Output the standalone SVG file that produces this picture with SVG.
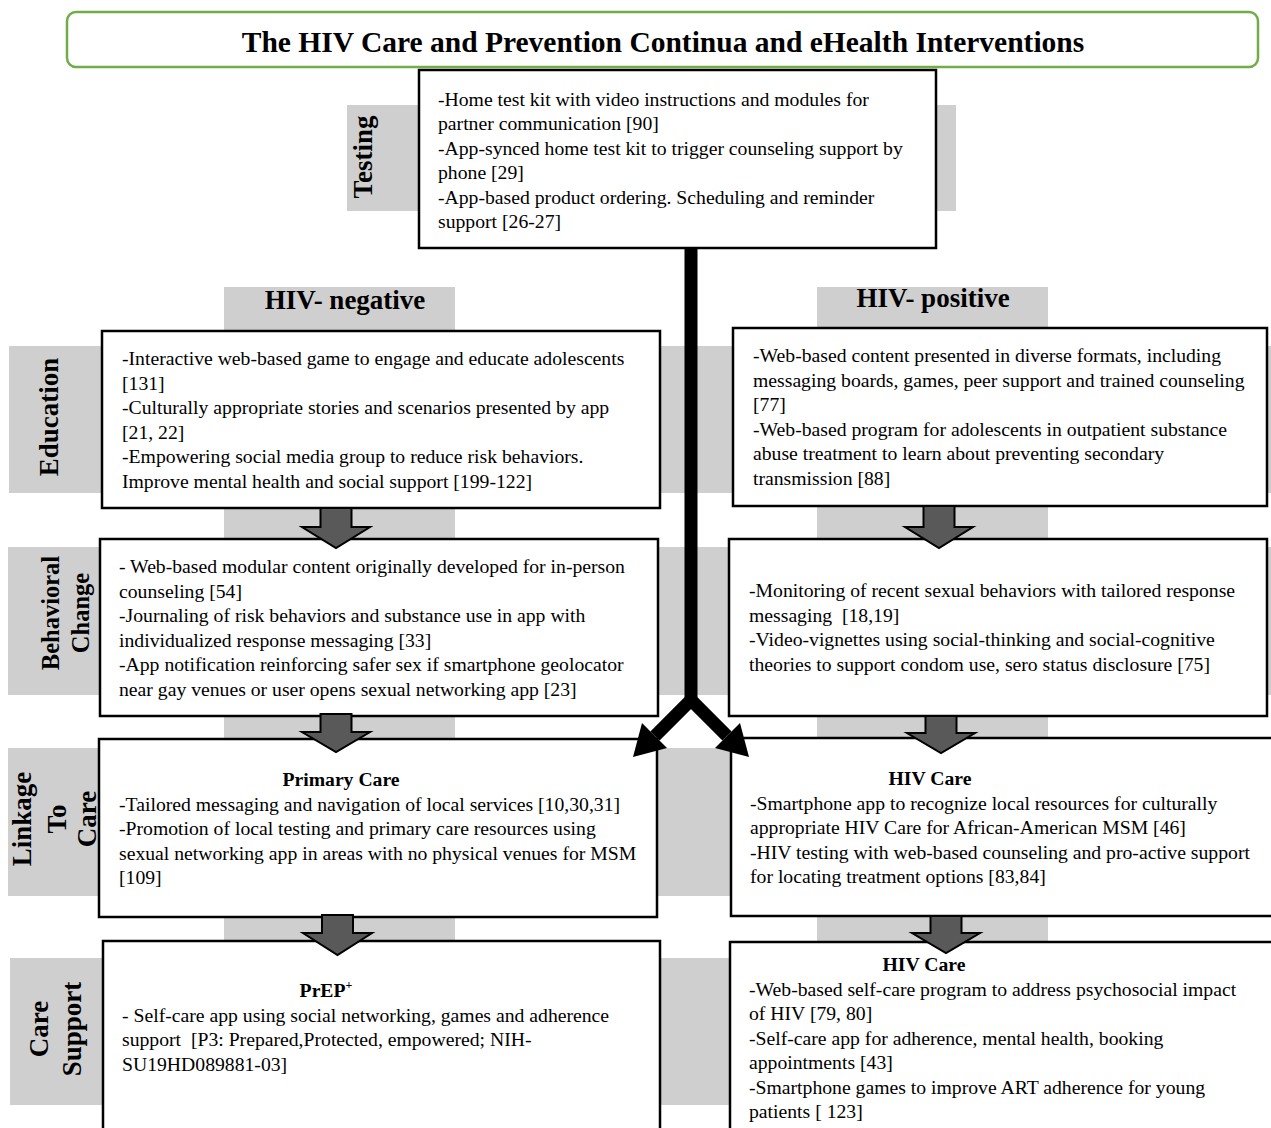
<svg xmlns="http://www.w3.org/2000/svg" width="1271" height="1128" viewBox="0 0 1271 1128">
<style>
.band{fill:#d0cfcf}
.box{fill:#fff;stroke:#000;stroke-width:2.5}
.t{font-family:"Liberation Serif","Times New Roman",serif;font-size:19.7px;fill:#000}
.h{font-weight:bold;text-anchor:middle}
.lbl{font-family:"Liberation Serif","Times New Roman",serif;font-weight:bold;font-size:27px;text-anchor:middle;fill:#000}
.ttl{font-size:29.5px}
.sm{font-size:24.5px}
.blk{fill:#595959;stroke:#000;stroke-width:2;stroke-linejoin:miter}
.bar{fill:none;stroke:#000;stroke-width:13}
</style>
<rect width="1271" height="1128" fill="#fff"/>
<g id="bands">
<rect class="band" x="347" y="105" width="609" height="106"/>
<rect class="band" x="9" y="346" width="1262" height="147"/>
<rect class="band" x="8" y="547" width="1263" height="148"/>
<rect class="band" x="8" y="748" width="1263" height="148"/>
<rect class="band" x="10" y="958" width="1261" height="147"/>
<rect class="band" x="224" y="287" width="231" height="841"/>
<rect class="band" x="817" y="287" width="231" height="841"/>
</g>
<g id="title">
<rect x="67" y="12" width="1191" height="55" rx="9" fill="#fff" stroke="#70ad47" stroke-width="2.5"/>
<text class="lbl ttl" x="663" y="52">The HIV Care and Prevention Continua and eHealth Interventions</text>
</g>
<g id="header-negative"><text class="lbl" x="345" y="309">HIV- negative</text></g>
<g id="header-positive"><text class="lbl" x="933" y="307">HIV- positive</text></g>
<g id="label-testing"><text class="lbl" transform="rotate(-90 372 157)" x="372" y="157">Testing</text></g>
<g id="label-education"><text class="lbl" transform="rotate(-90 58 417)" x="58" y="417">Education</text></g>
<g id="label-behavioral">
<text class="lbl sm" transform="rotate(-90 58.5 613)" x="58.5" y="613">Behavioral</text>
<text class="lbl sm" transform="rotate(-90 88.5 613)" x="88.5" y="613">Change</text>
</g>
<g id="label-linkage">
<text class="lbl" transform="rotate(-90 31 819)" x="31" y="819">Linkage</text>
<text class="lbl" transform="rotate(-90 66 819)" x="66" y="819">To</text>
<text class="lbl" transform="rotate(-90 96 819)" x="96" y="819">Care</text>
</g>
<g id="label-care">
<text class="lbl" transform="rotate(-90 48 1029)" x="48" y="1029">Care</text>
<text class="lbl" transform="rotate(-90 81 1029)" x="81" y="1029">Support</text>
</g>
<g id="testing">
<rect class="box" x="419" y="70" width="517" height="178"/>
<text class="t">
<tspan x="438" y="105.5">-Home test kit with video instructions and modules for</tspan>
<tspan x="438" y="130">partner communication [90]</tspan>
<tspan x="438" y="154.5">-App-synced home test kit to trigger counseling support by</tspan>
<tspan x="438" y="179">phone [29]</tspan>
<tspan x="438" y="203.5">-App-based product ordering. Scheduling and reminder</tspan>
<tspan x="438" y="228">support [26-27]</tspan>
</text>
</g>
<g id="edu-neg">
<rect class="box" x="102" y="331" width="558" height="177"/>
<text class="t">
<tspan x="122" y="365">-Interactive web-based game to engage and educate adolescents</tspan>
<tspan x="122" y="389.5">[131]</tspan>
<tspan x="122" y="414">-Culturally appropriate stories and scenarios presented by app</tspan>
<tspan x="122" y="438.5">[21, 22]</tspan>
<tspan x="122" y="463">-Empowering social media group to reduce risk behaviors.</tspan>
<tspan x="122" y="487.5">Improve mental health and social support [199-122]</tspan>
</text>
</g>
<g id="edu-pos">
<rect class="box" x="733" y="328" width="534" height="178"/>
<text class="t">
<tspan x="753" y="362">-Web-based content presented in diverse formats, including</tspan>
<tspan x="753" y="386.5">messaging boards, games, peer support and trained counseling</tspan>
<tspan x="753" y="411">[77]</tspan>
<tspan x="753" y="435.5">-Web-based program for adolescents in outpatient substance</tspan>
<tspan x="753" y="460">abuse treatment to learn about preventing secondary</tspan>
<tspan x="753" y="484.5">transmission [88]</tspan>
</text>
</g>
<g id="beh-neg">
<rect class="box" x="100" y="539" width="558" height="177"/>
<text class="t">
<tspan x="119" y="573">- Web-based modular content originally developed for in-person</tspan>
<tspan x="119" y="597.5">counseling [54]</tspan>
<tspan x="119" y="622">-Journaling of risk behaviors and substance use in app with</tspan>
<tspan x="119" y="646.5">individualized response messaging [33]</tspan>
<tspan x="119" y="671">-App notification reinforcing safer sex if smartphone geolocator</tspan>
<tspan x="119" y="695.5">near gay venues or user opens sexual networking app [23]</tspan>
</text>
</g>
<g id="beh-pos">
<rect class="box" x="729" y="539" width="538" height="177"/>
<text class="t">
<tspan x="749" y="597">-Monitoring of recent sexual behaviors with tailored response</tspan>
<tspan x="749" y="621.5">messaging&#160; [18,19]</tspan>
<tspan x="749" y="646">-Video-vignettes using social-thinking and social-cognitive</tspan>
<tspan x="749" y="670.5">theories to support condom use, sero status disclosure [75]</tspan>
</text>
</g>
<g id="link-neg">
<rect class="box" x="99" y="739" width="558" height="178"/>
<text class="t h" x="341" y="786">Primary Care</text>
<text class="t">
<tspan x="119" y="810.5">-Tailored messaging and navigation of local services [10,30,31]</tspan>
<tspan x="119" y="835">-Promotion of local testing and primary care resources using</tspan>
<tspan x="119" y="859.5">sexual networking app in areas with no physical venues for MSM</tspan>
<tspan x="119" y="884">[109]</tspan>
</text>
</g>
<g id="link-pos">
<rect class="box" x="731" y="738" width="545" height="178"/>
<text class="t h" x="930" y="785">HIV Care</text>
<text class="t">
<tspan x="750" y="809.5">-Smartphone app to recognize local resources for culturally</tspan>
<tspan x="750" y="834">appropriate HIV Care for African-American MSM [46]</tspan>
<tspan x="750" y="858.5">-HIV testing with web-based counseling and pro-active support</tspan>
<tspan x="750" y="883">for locating treatment options [83,84]</tspan>
</text>
</g>
<g id="care-neg">
<rect class="box" x="103" y="941" width="557" height="200"/>
<text class="t h" x="326" y="997">PrEP<tspan font-size="12" dy="-8">+</tspan></text>
<text class="t">
<tspan x="122" y="1021.5">- Self-care app using social networking, games and adherence</tspan>
<tspan x="122" y="1046">support&#160; [P3: Prepared,Protected, empowered; NIH-</tspan>
<tspan x="122" y="1070.5">SU19HD089881-03]</tspan>
</text>
</g>
<g id="care-pos">
<rect class="box" x="730" y="942" width="546" height="200"/>
<text class="t h" x="924" y="971">HIV Care</text>
<text class="t">
<tspan x="749" y="995.5">-Web-based self-care program to address psychosocial impact</tspan>
<tspan x="749" y="1020">of HIV [79, 80]</tspan>
<tspan x="749" y="1044.5">-Self-care app for adherence, mental health, booking</tspan>
<tspan x="749" y="1069">appointments [43]</tspan>
<tspan x="749" y="1093.5">-Smartphone games to improve ART adherence for young</tspan>
<tspan x="749" y="1118">patients [ 123]</tspan>
</text>
</g>
<g id="connectors">
<polygon class="blk" points="320.5,508 351.5,508 351.5,527 370,527 336,548 302,527 320.5,527"/>
<polygon class="blk" points="320.5,714 351.5,714 351.5,732 370,732 336,752 302,732 320.5,732"/>
<polygon class="blk" points="322,915 353,915 353,933 372,933 337.5,955 303,933 322,933"/>
<polygon class="blk" points="923.5,506 954.5,506 954.5,527 973,527 939,548 905,527 923.5,527"/>
<polygon class="blk" points="925.5,716 956.5,716 956.5,733 975,733 941,753 907,733 925.5,733"/>
<polygon class="blk" points="930.5,916 961.5,916 961.5,933 980,933 946,953 912,933 930.5,933"/>
<path class="bar" d="M691,247 V700"/>
<path class="bar" d="M655,736 L691,700 L727,736"/>
<polygon points="633,757 642,723 667,748" fill="#000"/>
<polygon points="749,757 740,723 715,748" fill="#000"/>
</g>
</svg>
